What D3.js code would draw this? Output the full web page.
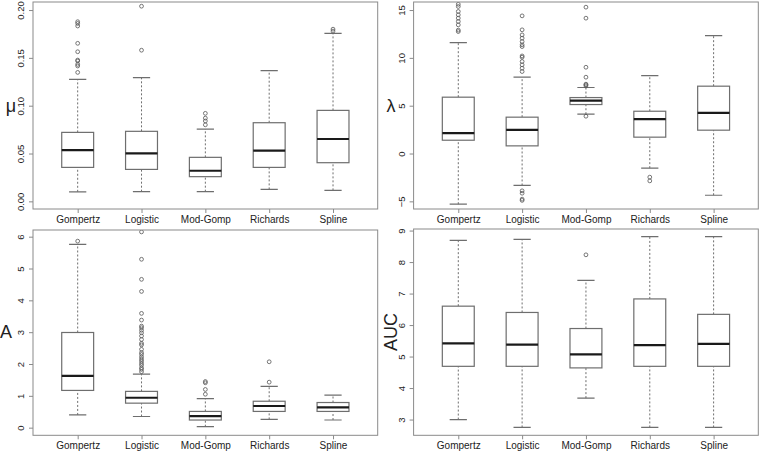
<!DOCTYPE html>
<html>
<head>
<meta charset="utf-8">
<script src="https://cdn.jsdelivr.net/npm/d3@7"></script>
<style>
  html, body { margin: 0; padding: 0; background: #fff; }
  svg { display: block; }
  text { font-family: "Liberation Sans", Arial, sans-serif; fill: #222; }
</style>
</head>
<body>
<svg id="chart" width="760" height="453"></svg>
<script>
// ---------------- DATA ----------------
const categories = ["Gompertz", "Logistic", "Mod-Gomp", "Richards", "Spline"];

// each entry: [lower whisker, Q1, median, Q3, upper whisker]
const muStats = [
  [0.010, 0.0355, 0.0536, 0.0721, 0.1276],
  [0.0101, 0.0334, 0.0502, 0.0732, 0.1293],
  [0.0101, 0.0258, 0.032, 0.046, 0.0756],
  [0.0125, 0.0355, 0.053, 0.0822, 0.1366],
  [0.0115, 0.0404, 0.0652, 0.0951, 0.1756]
];
const muOutliers = [
  [0.1348, 0.1415, 0.1432, 0.1467, 0.1477, 0.1564, 0.1652, 0.1833, 0.186, 0.1878],
  [0.158, 0.204],
  [0.080, 0.084, 0.087, 0.092],
  [],
  [0.178, 0.180]
];
const muTicks = [0, 0.05, 0.10, 0.15, 0.20];

const lambdaStats = [
  [-5.3, 1.39, 2.13, 5.89, 11.6],
  [-3.34, 0.80, 2.47, 3.80, 7.98],
  [4.11, 5.12, 5.54, 5.85, 6.9],
  [-1.53, 1.71, 3.59, 4.42, 8.15],
  [-4.36, 2.44, 4.25, 7.04, 12.33]
];
const lambdaOutliers = [
  [12.75, 12.9, 13.45, 13.8, 14.15, 14.5, 14.85, 15.37, 15.6, 16.2],
  [8.57, 8.92, 9.27, 9.62, 10.07, 10.2, 11.18, 11.36, 11.7, 12.06, 12.4, 12.93, 14.39, -3.9, -4.15, -4.77, -4.9],
  [7.07, 7.18, 7.25, 7.98, 9.02, 14.15, 15.3, 3.9],
  [-2.47, -2.86],
  []
];
const lambdaTicks = [-5, 0, 5, 10, 15];

const aStats = [
  [0.40, 1.17, 1.63, 2.99, 5.76],
  [0.35, 0.77, 0.94, 1.14, 1.68],
  [0.03, 0.24, 0.36, 0.51, 0.91],
  [0.26, 0.51, 0.68, 0.83, 1.30],
  [0.24, 0.51, 0.64, 0.79, 1.02]
];
const aOutliers = [
  [5.86],
  [1.76, 1.83, 1.88, 1.96, 2.02, 2.09, 2.15, 2.22, 2.30, 2.36, 2.46, 2.60, 2.65, 2.77, 2.88, 2.98, 3.06, 3.14, 3.19, 3.38, 3.59, 4.28, 4.66, 5.29, 6.15],
  [1.05, 1.20, 1.41, 1.45],
  [1.43, 2.07],
  []
];
const aTicks = [0, 1, 2, 3, 4, 5, 6];

const aucStats = [
  [3.00, 4.69, 5.42, 6.60, 8.69],
  [2.75, 4.69, 5.38, 6.40, 8.72],
  [3.68, 4.64, 5.07, 5.89, 7.42],
  [2.75, 4.69, 5.36, 6.83, 8.81],
  [2.75, 4.69, 5.40, 6.34, 8.81]
];
const aucOutliers = [[], [], [8.23], [], []];
const aucTicks = [3, 4, 5, 6, 7, 8, 9];

// ---------------- LAYOUT ----------------
const panels = [
  { label: "μ", stats: muStats, outliers: muOutliers, ticks: muTicks, fmt: d3.format(".2f"),
    domain: [-0.008, 0.2084], x0: 33, x1: 377.7, y0: 2, y1: 209, lx: 11, ly: 106, rot: false },
  { label: "λ", stats: lambdaStats, outliers: lambdaOutliers, ticks: lambdaTicks, fmt: d3.format("d"),
    domain: [-5.8, 15.84], x0: 413.6, x1: 758.3, y0: 2, y1: 209, lx: 391, ly: 106, rot: false },
  { label: "A", stats: aStats, outliers: aOutliers, ticks: aTicks, fmt: d3.format("d"),
    domain: [-0.24, 6.21], x0: 33, x1: 377.7, y0: 230, y1: 435.3, lx: 6, ly: 332, rot: false },
  { label: "AUC", stats: aucStats, outliers: aucOutliers, ticks: aucTicks, fmt: d3.format("d"),
    domain: [2.50, 9.05], x0: 413.6, x1: 758.3, y0: 229, y1: 435.3, lx: 391, ly: 332, rot: true }
];

const svg = d3.select("#chart");
const boxColor = "#6e6e6e";
const frameColor = "#8a8a8a";

panels.forEach((p, pi) => {
  const x = d3.scaleLinear().domain([0.3, 5.7]).range([p.x0, p.x1]);
  const y = d3.scaleLinear().domain(p.domain).range([p.y1, p.y0]);
  const g = svg.append("g");
  const clipId = "clip" + pi;
  svg.append("clipPath").attr("id", clipId)
    .append("rect").attr("x", p.x0).attr("y", p.y0)
    .attr("width", p.x1 - p.x0).attr("height", p.y1 - p.y0);

  const plot = g.append("g").attr("clip-path", `url(#${clipId})`);
  const halfW = 0.25, capW = 0.135;

  categories.forEach((c, i) => {
    const s = p.stats[i];
    const cx = x(i + 1);
    const bg = plot.append("g");
    // whiskers (dashed)
    bg.append("line").attr("x1", cx).attr("x2", cx).attr("y1", y(s[3])).attr("y2", y(s[4]))
      .attr("stroke", boxColor).attr("stroke-dasharray", "2,2").attr("stroke-width", 1);
    bg.append("line").attr("x1", cx).attr("x2", cx).attr("y1", y(s[0])).attr("y2", y(s[1]))
      .attr("stroke", boxColor).attr("stroke-dasharray", "2,2").attr("stroke-width", 1);
    // caps
    [s[0], s[4]].forEach(v => {
      bg.append("line").attr("x1", x(i + 1 - capW)).attr("x2", x(i + 1 + capW))
        .attr("y1", y(v)).attr("y2", y(v)).attr("stroke", boxColor).attr("stroke-width", 1.2);
    });
    // box
    bg.append("rect").attr("x", x(i + 1 - halfW)).attr("y", y(s[3]))
      .attr("width", x(i + 1 + halfW) - x(i + 1 - halfW)).attr("height", y(s[1]) - y(s[3]))
      .attr("fill", "#fff").attr("stroke", boxColor).attr("stroke-width", 1.2);
    // median
    bg.append("line").attr("x1", x(i + 1 - halfW)).attr("x2", x(i + 1 + halfW))
      .attr("y1", y(s[2])).attr("y2", y(s[2])).attr("stroke", "#1a1a1a").attr("stroke-width", 2.2);
    // outliers
    bg.selectAll("circle.o").data(p.outliers[i]).enter().append("circle")
      .attr("cx", cx).attr("cy", d => y(d)).attr("r", 1.9)
      .attr("fill", "none").attr("stroke", "#555").attr("stroke-width", 0.8);
  });

  // frame
  g.append("rect").attr("x", p.x0).attr("y", p.y0).attr("width", p.x1 - p.x0).attr("height", p.y1 - p.y0)
    .attr("fill", "none").attr("stroke", frameColor).attr("stroke-width", 1);

  // y axis
  const yAxis = d3.axisLeft(y).tickValues(p.ticks).tickFormat(p.fmt).tickSize(4).tickPadding(3);
  const ya = g.append("g").attr("transform", `translate(${p.x0},0)`).call(yAxis);
  ya.select(".domain").remove();
  ya.selectAll(".tick line").attr("stroke", frameColor);
  ya.selectAll(".tick text")
    .attr("x", null).attr("dy", null)
    .attr("text-anchor", "middle")
    .attr("transform", "translate(-12,0) rotate(-90)")
    .attr("dy", "0.35em")
    .style("font-size", "9.5px")
    .style("font-family", "'Liberation Sans', Arial, sans-serif")
    .attr("fill", "#333");

  // x axis
  const xAxis = d3.axisBottom(x).tickValues([1, 2, 3, 4, 5]).tickFormat((d) => categories[d - 1]).tickSize(4).tickPadding(3);
  const xa = g.append("g").attr("transform", `translate(0,${p.y1})`).call(xAxis);
  xa.select(".domain").remove();
  xa.selectAll(".tick line").attr("stroke", frameColor);
  xa.selectAll(".tick text")
    .style("font-size", "10px")
    .style("font-family", "'Liberation Sans', Arial, sans-serif")
    .attr("fill", "#222");

  // axis label
  const t = g.append("text").text(p.label)
    .attr("text-anchor", "middle")
    .attr("dy", "0.35em")
    .style("font-size", "18px")
    .attr("fill", "#111");
  if (p.rot) t.attr("transform", `translate(${p.lx},${p.ly}) rotate(-90)`);
  else t.attr("x", p.lx).attr("y", p.ly);
});
</script>
</body>
</html>
